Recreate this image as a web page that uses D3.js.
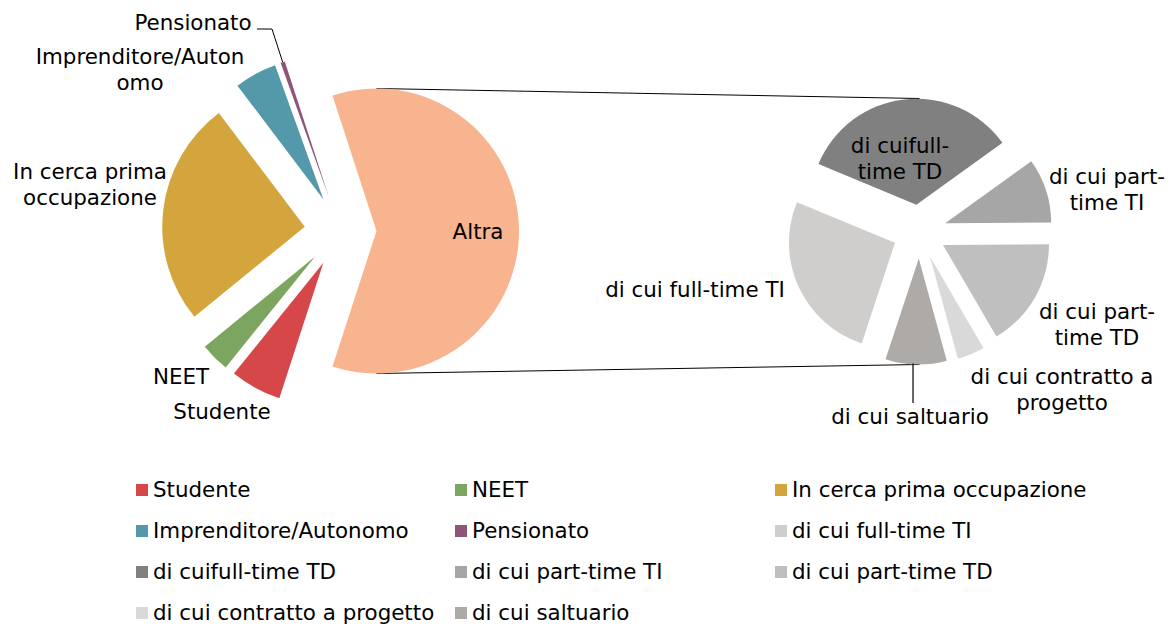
<!DOCTYPE html>
<html>
<head>
<meta charset="utf-8">
<script src="https://cdn.jsdelivr.net/npm/d3@7"></script>
<style>
  html, body { margin: 0; padding: 0; background: #fff; }
  svg { display: block; }
  text { font-family: "DejaVu Sans", Verdana, sans-serif; fill: #000; }
</style>
</head>
<body>
<svg id="chart" width="1172" height="628"></svg>
<script>
// Primary pie (values in %), "Altra" is split in the secondary pie
const mainCategories = ['Studente', 'NEET', 'In cerca prima occupazione', 'Imprenditore/Autonomo', 'Pensionato'];
const mainValues = [5.8, 3.3, 25.6, 4.8, 0.5];
const mainColors = ['#d6474a', '#7ca660', '#d4a53c', '#5499a9', '#8e5579'];

const subCategories = ['di cui full-time TI', 'di cuifull-time TD', 'di cui part-time TI', 'di cui part-time TD', 'di cui contratto a progetto', 'di cui saltuario'];
const subValues = [15.7, 20.3, 5.9, 10.0, 2.5, 5.6];
const subColors = ['#d0cecd', '#808080', '#a6a6a6', '#bfbfbf', '#d9d9d9', '#aeaaa7'];

const otherLabel = 'Altra';
const otherColor = '#f8b48f';

// Layout
const mainC = [340.5, 231], mainR = 142.5, mainExplode = 36;
const subC = [919.5, 231.5], subR = 106, subExplode = 27;
const subStartDeg = 198.3;
const rad = Math.PI / 180;

const svg = d3.select('#chart');

// Build primary data: others first, then the aggregated slice
const altraValue = d3.sum(subValues);
const mainData = mainCategories.map((c, i) => ({ name: c, value: mainValues[i], color: mainColors[i] }))
  .concat([{ name: otherLabel, value: altraValue, color: otherColor }]);
const total = d3.sum(mainData, d => d.value);
const altraSpan = 360 * altraValue / total;
const mainStart = (90 + altraSpan / 2) * rad;

const mainPie = d3.pie().sort(null).value(d => d.value)
  .startAngle(mainStart).endAngle(mainStart + 2 * Math.PI);
const mainArcs = mainPie(mainData);

const subData = subCategories.map((c, i) => ({ name: c, value: subValues[i], color: subColors[i] }));
const subPie = d3.pie().sort(null).value(d => d.value)
  .startAngle(subStartDeg * rad).endAngle(subStartDeg * rad + 2 * Math.PI);
const subArcs = subPie(subData);

function offset(a, dist) {
  const m = (a.startAngle + a.endAngle) / 2;
  return [Math.sin(m) * dist, -Math.cos(m) * dist];
}

// Connector lines
const altraArc = mainArcs[mainArcs.length - 1];
const altraOff = offset(altraArc, mainExplode);
const ax = mainC[0] + altraOff[0];
const lineG = svg.append('g');
[-1, 1].forEach(s => {
  lineG.append('line')
    .attr('x1', ax).attr('y1', mainC[1] + s * mainR)
    .attr('x2', subC[0]).attr('y2', subC[1] + s * (subR + subExplode))
    .attr('stroke', '#000').attr('stroke-width', 1);
});

// Primary pie
const mainArc = d3.arc().innerRadius(0).outerRadius(mainR);
svg.append('g')
  .attr('transform', `translate(${mainC[0]},${mainC[1]})`)
  .selectAll('path')
  .data(mainArcs)
  .enter()
  .append('path')
  .attr('transform', d => `translate(${offset(d, mainExplode)})`)
  .attr('d', mainArc)
  .attr('fill', d => d.data.color);

// Secondary pie
const subArc = d3.arc().innerRadius(0).outerRadius(subR);
svg.append('g')
  .attr('transform', `translate(${subC[0]},${subC[1]})`)
  .selectAll('path')
  .data(subArcs)
  .enter()
  .append('path')
  .attr('transform', d => `translate(${offset(d, subExplode)})`)
  .attr('d', subArc)
  .attr('fill', d => d.data.color);

// Data labels (text block centres, relative to pie centres)
const fs = 21.4;
const lh = 26;
const mainLabels = [
  { lines: ['Studente'], x: -118.5, y: 181 },
  { lines: ['NEET'], x: -159.5, y: 146 },
  { lines: ['In cerca prima', 'occupazione'], x: -250.5, y: -46 },
  { lines: ['Imprenditore/Auton', 'omo'], x: -200.5, y: -161 },
  { lines: ['Pensionato'], x: -147.5, y: -208 },
  { lines: ['Altra'], x: 137.5, y: 1 }
];
const subLabels = [
  { lines: ['di cui full-time TI'], x: -224.5, y: 58.5 },
  { lines: ['di cuifull-', 'time TD'], x: -19.5, y: -73 },
  { lines: ['di cui part-', 'time TI'], x: 187.5, y: -42 },
  { lines: ['di cui part-', 'time TD'], x: 177.5, y: 93.5 },
  { lines: ['di cui contratto a', 'progetto'], x: 142.5, y: 158.5 },
  { lines: ['di cui saltuario'], x: -9.5, y: 185.5 }
];

function drawLabels(list, c) {
  list.forEach(l => {
    const t = svg.append('text')
      .attr('text-anchor', 'middle')
      .attr('font-size', fs);
    l.lines.forEach((s, i) => {
      t.append('tspan')
        .attr('x', c[0] + l.x)
        .attr('y', c[1] + l.y + (i - (l.lines.length - 1) / 2) * lh)
        .attr('dy', '0.35em')
        .text(s);
    });
  });
}
drawLabels(mainLabels, mainC);
drawLabels(subLabels, subC);

// Leader lines for Pensionato and saltuario
const pens = mainArcs[4];
const pOff = offset(pens, mainExplode + mainR);
svg.append('polyline')
  .attr('points', [[257, 29], [272, 29], [mainC[0] + pOff[0], mainC[1] + pOff[1]]].join(' '))
  .attr('fill', 'none').attr('stroke', '#000').attr('stroke-width', 1);
const salt = subArcs[5];
const sOff = offset(salt, subExplode + subR);
svg.append('line')
  .attr('x1', subC[0] + sOff[0] - 3).attr('y1', subC[1] + sOff[1] - 1)
  .attr('x2', subC[0] + sOff[0] - 3).attr('y2', 403)
  .attr('stroke', '#000').attr('stroke-width', 1.2);

// Legend
const legendItems = mainData.slice(0, mainCategories.length).concat(subData);
const legendCols = [136, 455, 775];
const legendRowY = d3.scaleLinear().domain([0, 3]).range([490, 613]);
const legend = svg.append('g');
legendItems.forEach((d, i) => {
  const col = i % 3, row = Math.floor(i / 3);
  const x = legendCols[col], y = legendRowY(row);
  legend.append('rect')
    .attr('x', x).attr('y', y - 6)
    .attr('width', 12).attr('height', 12)
    .attr('fill', d.color);
  legend.append('text')
    .attr('x', x + 17).attr('y', y)
    .attr('dy', '0.35em')
    .attr('font-size', fs)
    .text(d.name);
});
</script>
</body>
</html>
